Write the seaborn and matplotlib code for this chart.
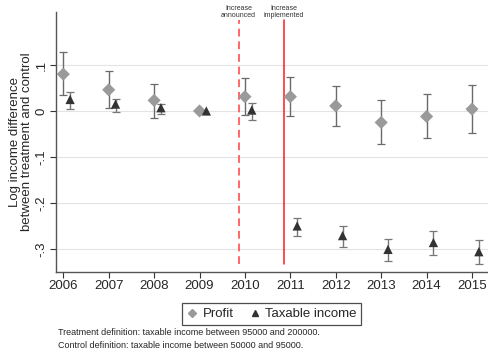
import numpy as np
import pandas as pd
import seaborn as sns
import matplotlib.pyplot as plt
from matplotlib.lines import Line2D

# Data
years = [2006, 2007, 2008, 2009, 2010, 2011, 2012, 2013, 2014, 2015]

profit = [0.080, 0.046, 0.023, 0.0, 0.031, 0.031, 0.011, -0.025, -0.012, 0.004]
profit_hi = [0.128, 0.087, 0.059, 0.0, 0.072, 0.073, 0.054, 0.023, 0.036, 0.057]
profit_lo = [0.035, 0.006, -0.015, 0.0, -0.009, -0.012, -0.032, -0.071, -0.059, -0.048]

taxable = [0.025, 0.015, 0.007, 0.0, 0.002, -0.250, -0.271, -0.301, -0.286, -0.306]
taxable_hi = [0.041, 0.027, 0.016, 0.0, 0.018, -0.232, -0.250, -0.278, -0.262, -0.280]
taxable_lo = [0.004, -0.002, -0.007, 0.0, -0.020, -0.271, -0.296, -0.326, -0.313, -0.333]

announced = 2009.86
implemented = 2010.86
yticks = [0.1, 0.0, -0.1, -0.2, -0.3]
ytick_labels = [".1", "0", "-.1", "-.2", "-.3"]

sns.set_theme(style="white")
plt.rcParams['font.family'] = ['Liberation Sans', 'DejaVu Sans']

df = pd.DataFrame({
    "year": years * 2,
    "value": profit + taxable,
    "hi": profit_hi + taxable_hi,
    "lo": profit_lo + taxable_lo,
    "series": ["Profit"] * len(years) + ["Taxable income"] * len(years),
})
# taxable income plotted slightly to the right of each year
df["x"] = df["year"] + np.where(df["series"] == "Taxable income", 0.15, 0.0)

fig = plt.figure(figsize=(4.88, 3.55), dpi=100)
ax = fig.add_axes([0.1148, 0.234, 0.885, 0.732])

for y in yticks:
    ax.axhline(y, color="#e3e3e3", lw=0.8, zorder=0)

# error bars (skip the reference year)
for s, col in [("Profit", "#6a6a6a"), ("Taxable income", "#777777")]:
    d = df[(df["series"] == s) & (df["year"] != 2009)]
    ax.errorbar(d["x"], d["value"], yerr=[d["value"] - d["lo"], d["hi"] - d["value"]],
                fmt="none", ecolor=col, elinewidth=1.0, capsize=3, capthick=0.9, zorder=2)

sns.scatterplot(data=df, x="x", y="value", hue="series", style="series",
                markers={"Profit": "D", "Taxable income": "^"},
                palette={"Profit": "#9a9a9a", "Taxable income": "#333333"},
                s=45, linewidth=0, legend=False, ax=ax, zorder=3)

ax.plot([announced, announced], [-0.333, 0.198], color="#ff6666", lw=1.4, ls=(0, (4, 2.5)), zorder=1)
ax.plot([implemented, implemented], [-0.333, 0.198], color="#ff1a1a", lw=1.1, zorder=1)
ax.text(announced, 0.201, "Increase\nannounced", ha="center", va="bottom", fontsize=5, color="#333333", linespacing=0.9)
ax.text(implemented, 0.201, "Increase\nimplemented", ha="center", va="bottom", fontsize=5, color="#333333", linespacing=0.9)

ax.set_xlim(2005.84, 2015.35)
ax.set_ylim(-0.35, 0.215)
ax.set_xticks(years)
ax.set_xticklabels([str(y) for y in years], fontsize=9.5)
ax.set_yticks(yticks)
ax.set_yticklabels(ytick_labels, fontsize=9.5, rotation=90, va="center")
ax.set_xlabel("")
ax.set_ylabel("Log income difference\nbetween treatment and control", fontsize=9.5, labelpad=2, linespacing=1.0)
ax.tick_params(axis="both", length=4, width=0.8, color="#333333", pad=2, left=True, bottom=True)

for side in ["top", "right"]:
    ax.spines[side].set_visible(False)
for side in ["left", "bottom"]:
    ax.spines[side].set_color("#555555")
    ax.spines[side].set_linewidth(1.0)

handles = [
    Line2D([], [], marker="D", color="#9a9a9a", ls="none", markersize=4.5),
    Line2D([], [], marker="^", color="#333333", ls="none", markersize=5),
]
leg = fig.legend(handles, ["Profit", "Taxable income"], loc="center", bbox_to_anchor=(0.557, 0.115),
                 ncol=2, fontsize=9.5, frameon=True, fancybox=False, handlelength=0.8,
                 handletextpad=0.4, columnspacing=1.2, borderpad=0.35)
leg.get_frame().set_edgecolor("#222222")
leg.get_frame().set_linewidth(0.9)

fig.text(0.118, 0.062, "Treatment definition: taxable income between 95000 and 200000.", fontsize=6.5, va="center")
fig.text(0.118, 0.026, "Control definition: taxable income between 50000 and 95000.", fontsize=6.5, va="center")

fig.savefig("out.png", dpi=100)
